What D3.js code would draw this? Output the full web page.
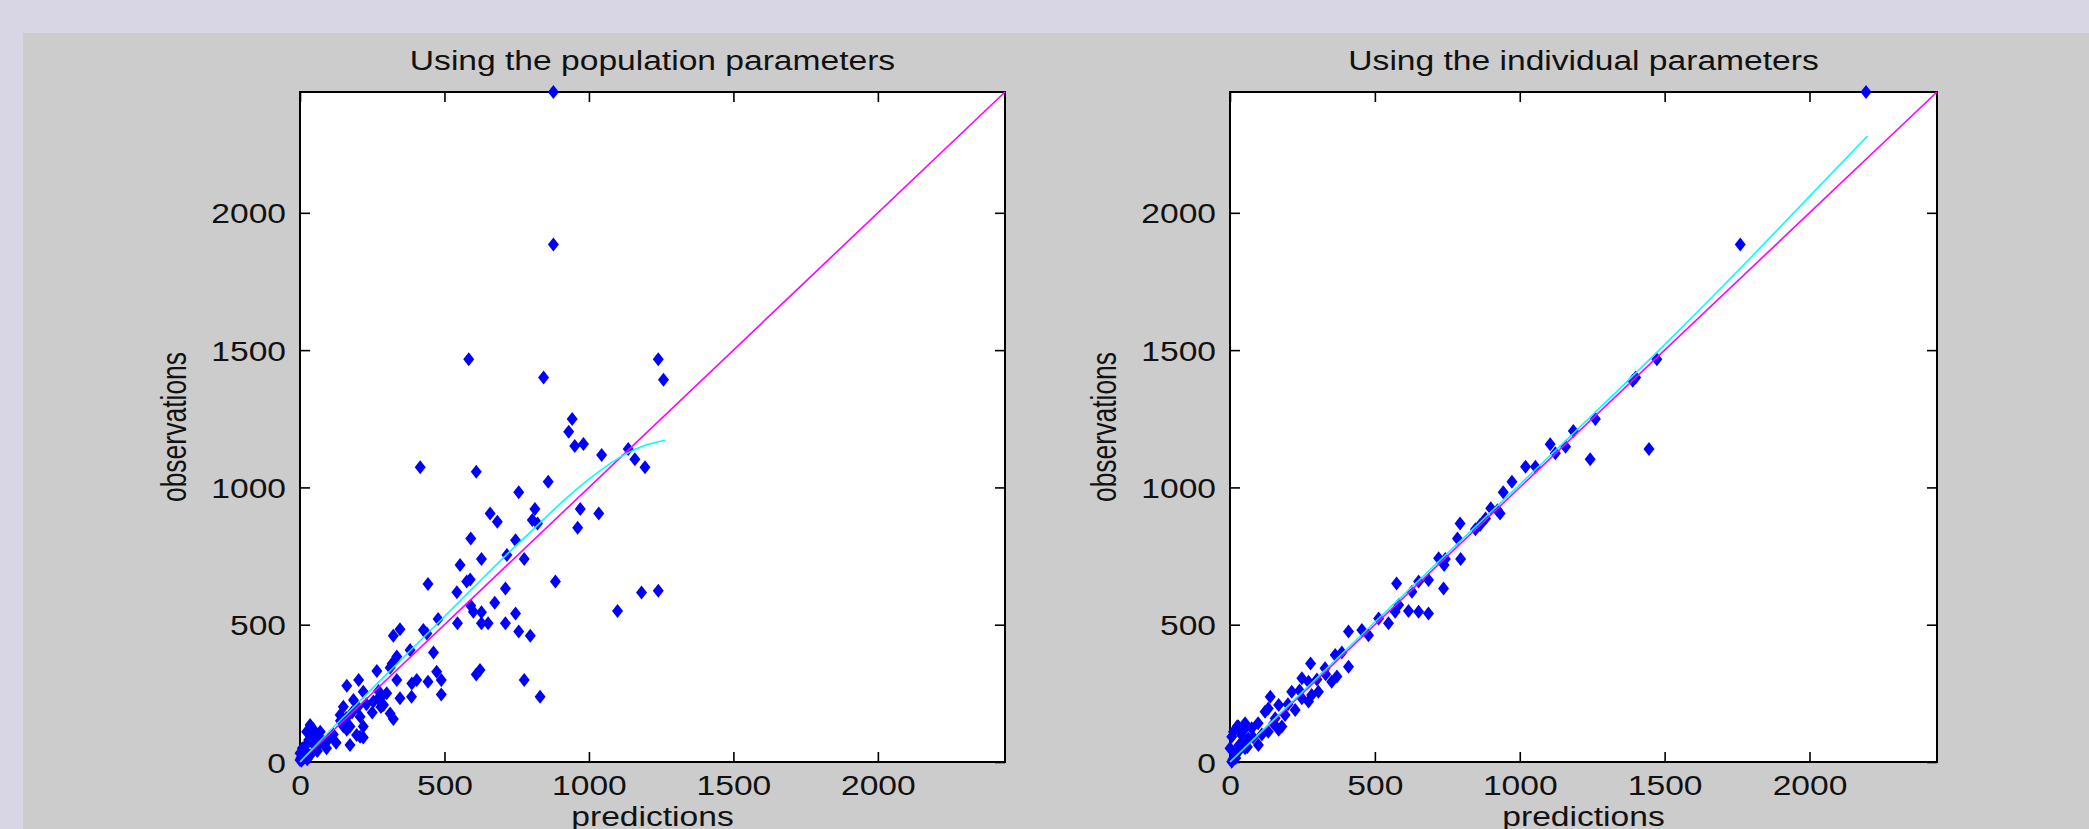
<!DOCTYPE html>
<html>
<head>
<meta charset="utf-8">
<script src="https://cdn.jsdelivr.net/npm/d3@7"></script>
<style>
  html, body { margin: 0; padding: 0; background: #d8d5e5; }
  svg { display: block; }
</style>
</head>
<body>
<svg id="chart" width="2089" height="829"></svg>
<script>
// ---------------- DATA ----------------
const titles = ["Using the population parameters", "Using the individual parameters"];
const xLabel = "predictions";
const yLabel = "observations";
const tickValues = [0, 500, 1000, 1500, 2000];
const tickLabels = ["0", "500", "1000", "1500", "2000"];
const axisMax = 2440;

// [prediction, observation] using population parameters
const popPoints = [
  [877,2440],[877,1885],[584,1467],[843,1400],[1240,1467],[1258,1392],[942,1249],[930,1203],
  [951,1151],[981,1158],[1044,1118],[1136,1140],[1159,1103],[1194,1073],[416,1073],[610,1057],
  [859,1021],[757,982],[658,905],[683,875],[813,921],[804,881],[822,869],[970,921],[1034,905],
  [961,853],[591,814],[746,808],[628,739],[716,754],[776,739],[554,717],[589,665],[577,657],
  [443,648],[884,657],[711,632],[543,618],[591,569],[600,547],[628,545],[674,580],[746,541],
  [478,521],[545,505],[628,505],[651,505],[711,505],[757,475],[797,460],[1099,550],[1182,617],
  [1240,624],[346,483],[323,460],[427,481],[439,468],[381,408],[462,399],[335,384],[319,359],
  [312,343],[266,331],[335,299],[473,329],[489,299],[404,299],[387,286],[443,292],[623,335],
  [610,319],[776,299],[831,238],[489,246],[346,232],[386,238],[162,278],[203,299],[219,256],
  [272,259],[282,238],[254,220],[289,208],[312,177],[323,157],[150,201],[185,226],[208,165],
  [219,129],[173,129],[139,171],[162,117],[196,98],[208,92],[173,62],[219,89],[35,135],[23,110],
  [46,86],[69,68],[92,50],[35,25],[12,13],[0,32],[0,7],[5,5],[10,20],[15,45],[20,60],[25,10],
  [30,80],[40,100],[45,120],[50,60],[55,95],[60,40],[70,110],[80,75],[100,85],[115,100],[125,70],
  [8,50],[3,15],[140,150],[150,130],[160,160],[180,180],[200,200],[230,210],[250,180],[270,230],
  [300,250],[280,200]
];

// [prediction, observation] using individual parameters
const indPoints = [
  [2195,2440],[1761,1885],[1473,1467],[1400,1400],[1390,1388],[1261,1249],[1185,1205],[1158,1148],
  [1123,1124],[1105,1157],[1243,1103],[1446,1140],[1054,1075],[1020,1075],[973,1021],[943,982],
  [923,917],[900,924],[932,905],[882,887],[863,863],[847,848],[794,869],[785,814],[796,739],
  [743,739],[720,742],[739,717],[737,632],[685,663],[651,657],[628,620],[575,650],[582,572],
  [570,547],[616,550],[651,547],[685,541],[513,523],[547,505],[478,462],[455,481],[409,475],
  [386,399],[363,390],[328,341],[409,347],[369,311],[278,359],[248,305],[271,292],[282,244],
  [213,256],[248,232],[271,220],[139,238],[168,208],[225,189],[121,183],[156,159],[97,141],
  [179,129],[132,110],[168,117],[52,141],[75,123],[29,129],[6,92],[40,98],[63,86],[98,62],
  [52,50],[29,38],[6,1],[17,25],[0,50],[132,195],[190,171],[305,256],[351,292],[10,10],[20,15],
  [30,60],[45,75],[60,55],[80,90],[110,100],[150,140],[200,210],[240,260],[300,300],[330,320],
  [12,110],[25,130],[50,120]
];

// smoothed trend (cyan)
const popFitX = [0,100,200,300,400,500,600,700,800,900,1000,1100,1200,1264];
const popFitY = [0,110,215,320,425,530,635,740,840,940,1030,1105,1155,1172];
const indFitX = [0,200,500,1000,1500,1800,2000,2200];
const indFitY = [0,205,510,1010,1520,1840,2060,2280];

// identity line (magenta)
const identity = [0, axisMax];

// ---------------- DRAW ----------------
const W = 2089, H = 829;
const SX = 1.2;            // horizontal stretch of the original raster text
const FONT = "'Liberation Sans', Arial, sans-serif";
const svg = d3.select("#chart");

svg.append("rect").attr("x",0).attr("y",0).attr("width",W).attr("height",H).attr("fill","#d8d5e5");
svg.append("rect").attr("x",23).attr("y",33).attr("width",W-23).attr("height",H-33).attr("fill","#cccccc");

const plotTop = 92, plotBottom = 762;
const panels = [
  {left:300, right:1005, title:titles[0], points:popPoints, fx:popFitX, fy:popFitY},
  {left:1230, right:1937, title:titles[1], points:indPoints, fx:indFitX, fy:indFitY}
];
const fmt = v => tickLabels[tickValues.indexOf(v)];

function stretchedText(g, x, y, txt, size, anchor) {
  return g.append("text")
    .attr("transform", `translate(${x},${y}) scale(${SX},1)`)
    .attr("text-anchor", anchor)
    .attr("font-family", FONT)
    .attr("font-size", size)
    .attr("fill", "#111")
    .text(txt);
}

panels.forEach(p => {
  const x = d3.scaleLinear().domain([0, axisMax]).range([p.left, p.right]);
  const y = d3.scaleLinear().domain([0, axisMax]).range([plotBottom, plotTop]);
  const g = svg.append("g");

  g.append("rect").attr("x", p.left).attr("y", plotTop)
    .attr("width", p.right - p.left).attr("height", plotBottom - plotTop).attr("fill", "#fff");

  // axes (ticks inward)
  const bx = g.append("g").attr("transform", `translate(0,${plotBottom})`)
    .call(d3.axisBottom(x).tickValues(tickValues).tickFormat(fmt).tickSizeInner(-10).tickSizeOuter(0));
  bx.selectAll("text")
    .attr("y", 0).attr("dy", null)
    .attr("transform", `translate(0,33) scale(${SX},1)`)
    .attr("font-family", FONT).attr("font-size", 28).attr("fill", "#111");

  const tx = g.append("g").attr("transform", `translate(0,${plotTop})`)
    .call(d3.axisTop(x).tickValues(tickValues).tickSizeInner(-10).tickSizeOuter(0).tickFormat(""));

  const ly = g.append("g").attr("transform", `translate(${p.left},0)`)
    .call(d3.axisLeft(y).tickValues(tickValues).tickFormat(fmt).tickSizeInner(-10).tickSizeOuter(0));
  ly.selectAll("text")
    .attr("x", 0).attr("dy", "0.36em")
    .attr("transform", `translate(-14,0) scale(${SX},1)`)
    .attr("font-family", FONT).attr("font-size", 28).attr("fill", "#111");

  const ry = g.append("g").attr("transform", `translate(${p.right},0)`)
    .call(d3.axisRight(y).tickValues(tickValues).tickSizeInner(-10).tickSizeOuter(0).tickFormat(""));

  [bx, tx, ly, ry].forEach(a => {
    a.select(".domain").remove();
    a.selectAll(".tick line").attr("stroke", "#000").attr("stroke-width", 1.6);
  });

  g.append("rect").attr("x", p.left).attr("y", plotTop)
    .attr("width", p.right - p.left).attr("height", plotBottom - plotTop)
    .attr("fill", "none").attr("stroke", "#000").attr("stroke-width", 2);

  // points (filled diamonds)
  const hw = 5.5, hh = 7;
  g.append("g").selectAll("path").data(p.points).join("path")
    .attr("d", d => {
      const cx = x(d[0]), cy = y(d[1]);
      return `M${cx},${cy-hh}L${cx+hw},${cy}L${cx},${cy+hh}L${cx-hw},${cy}Z`;
    })
    .attr("fill", "#0000ff");

  // identity line
  g.append("path")
    .datum(identity)
    .attr("d", d3.line().x(d => x(d)).y(d => y(d)))
    .attr("stroke", "#ff00ff").attr("stroke-width", 1.6).attr("fill", "none");

  // trend curve
  g.append("path")
    .datum(p.fx.map((v, i) => [v, p.fy[i]]))
    .attr("d", d3.line().x(d => x(d[0])).y(d => y(d[1])).curve(d3.curveMonotoneX))
    .attr("stroke", "#00ffff").attr("stroke-width", 1.6).attr("fill", "none");

  const cx = (p.left + p.right) / 2;
  stretchedText(g, cx, 70, p.title, 28, "middle");
  stretchedText(g, cx, 826, xLabel, 28, "middle");

  g.append("text")
    .attr("transform", `translate(${p.left - 114},${(plotTop + plotBottom) / 2}) scale(1.3,1) rotate(-90)`)
    .attr("text-anchor", "middle")
    .attr("font-family", FONT)
    .attr("font-size", 26.5)
    .attr("fill", "#111")
    .text(yLabel);
});
</script>
</body>
</html>
